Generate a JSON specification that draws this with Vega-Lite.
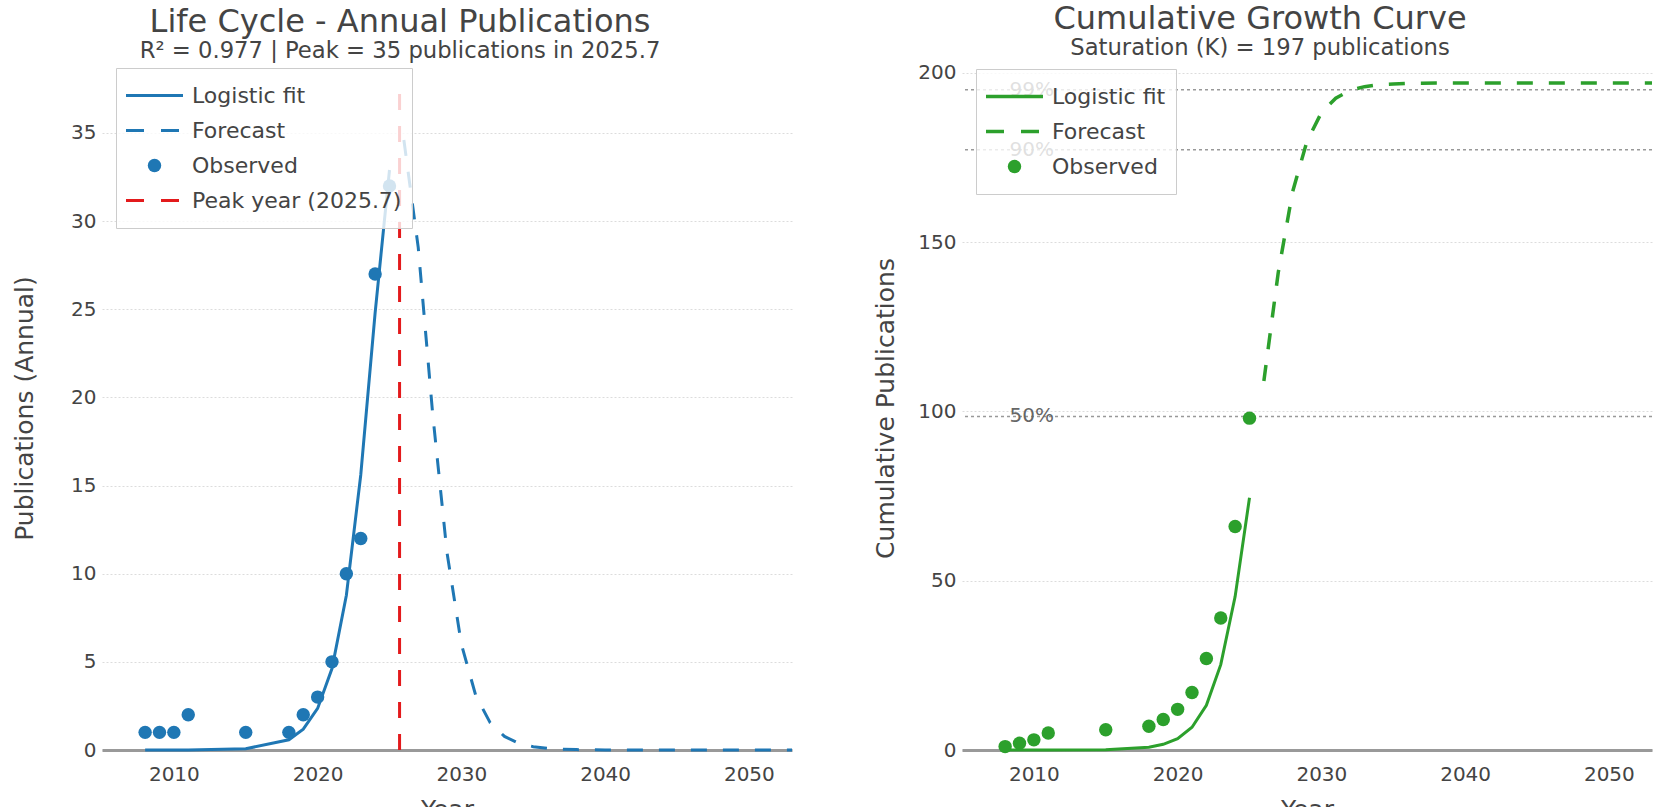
{
  "$schema": "https://vega.github.io/schema/vega-lite/v6.json",
  "background": "white",
  "padding": {"left": 12, "top": 3, "right": 0, "bottom": 0},
  "config": {
    "font": "DejaVu Sans",
    "view": {"stroke": null},
    "axis": {"labelColor": "#444", "titleColor": "#444", "titleFontWeight": "normal", "labelFontSize": 20, "titleFontSize": 25},
    "axisX": {"grid": false, "ticks": false, "domainColor": "#999", "domainWidth": 3, "labelPadding": 14, "titlePadding": 13},
    "axisY": {"grid": true, "gridColor": "#dcdcdc", "gridDash": [2, 2], "domain": false, "ticks": false, "labelPadding": 6},
    "title": {"color": "#444", "subtitleColor": "#444", "fontWeight": "normal", "fontSize": 32, "subtitleFontSize": 22.7, "anchor": "middle", "frame": "group", "dx": -47, "offset": 2, "subtitlePadding": 1},
    "legend": {"labelColor": "#444", "labelFontSize": 22, "labelLimit": 400, "title": null, "strokeColor": "#cccccc", "strokeWidth": 1, "fillColor": "rgba(255,255,255,0.8)", "padding": 10, "rowPadding": 0, "clipHeight": 35, "symbolOffset": 17.5, "labelOffset": 26.5, "symbolStrokeWidth": 3}
  },
  "datasets": {
    "annualObs": [
      {"year": 2008, "value": 1, "series": "Observed"},
      {"year": 2009, "value": 1, "series": "Observed"},
      {"year": 2010, "value": 1, "series": "Observed"},
      {"year": 2011, "value": 2, "series": "Observed"},
      {"year": 2015, "value": 1, "series": "Observed"},
      {"year": 2018, "value": 1, "series": "Observed"},
      {"year": 2019, "value": 2, "series": "Observed"},
      {"year": 2020, "value": 3, "series": "Observed"},
      {"year": 2021, "value": 5, "series": "Observed"},
      {"year": 2022, "value": 10, "series": "Observed"},
      {"year": 2023, "value": 12, "series": "Observed"},
      {"year": 2024, "value": 27, "series": "Observed"},
      {"year": 2025, "value": 32, "series": "Observed"}
    ],
    "annualFit": [
      {"year": 2008, "value": 0.0005, "series": "Logistic fit"},
      {"year": 2009, "value": 0.001, "series": "Logistic fit"},
      {"year": 2010, "value": 0.002, "series": "Logistic fit"},
      {"year": 2011, "value": 0.004, "series": "Logistic fit"},
      {"year": 2015, "value": 0.069, "series": "Logistic fit"},
      {"year": 2018, "value": 0.58, "series": "Logistic fit"},
      {"year": 2019, "value": 1.18, "series": "Logistic fit"},
      {"year": 2020, "value": 2.36, "series": "Logistic fit"},
      {"year": 2021, "value": 4.62, "series": "Logistic fit"},
      {"year": 2022, "value": 8.78, "series": "Logistic fit"},
      {"year": 2023, "value": 15.6, "series": "Logistic fit"},
      {"year": 2024, "value": 24.8, "series": "Logistic fit"},
      {"year": 2025, "value": 32.9, "series": "Logistic fit"}
    ],
    "annualForecast": [
      {"year": 2026, "value": 34.6, "series": "Forecast"},
      {"year": 2027, "value": 28.5, "series": "Forecast"},
      {"year": 2028, "value": 19.1, "series": "Forecast"},
      {"year": 2029, "value": 11.2, "series": "Forecast"},
      {"year": 2030, "value": 6.0, "series": "Forecast"},
      {"year": 2031, "value": 3.09, "series": "Forecast"},
      {"year": 2032, "value": 1.55, "series": "Forecast"},
      {"year": 2033, "value": 0.77, "series": "Forecast"},
      {"year": 2034, "value": 0.38, "series": "Forecast"},
      {"year": 2035, "value": 0.19, "series": "Forecast"},
      {"year": 2036, "value": 0.09, "series": "Forecast"},
      {"year": 2037, "value": 0.045, "series": "Forecast"},
      {"year": 2038, "value": 0.022, "series": "Forecast"},
      {"year": 2039, "value": 0.011, "series": "Forecast"},
      {"year": 2040, "value": 0.005, "series": "Forecast"},
      {"year": 2041, "value": 0.003, "series": "Forecast"},
      {"year": 2042, "value": 0.001, "series": "Forecast"},
      {"year": 2043, "value": 0.0006, "series": "Forecast"},
      {"year": 2044, "value": 0.0003, "series": "Forecast"},
      {"year": 2045, "value": 0.0001, "series": "Forecast"},
      {"year": 2046, "value": 0, "series": "Forecast"},
      {"year": 2047, "value": 0, "series": "Forecast"},
      {"year": 2048, "value": 0, "series": "Forecast"},
      {"year": 2049, "value": 0, "series": "Forecast"},
      {"year": 2050, "value": 0, "series": "Forecast"},
      {"year": 2051, "value": 0, "series": "Forecast"},
      {"year": 2052, "value": 0, "series": "Forecast"},
      {"year": 2053, "value": 0, "series": "Forecast"}
    ],
    "peak": [
      {"year": 2025.7, "bottom": 0, "top": 37.3, "series": "Peak year (2025.7)"}
    ],
    "cumObs": [
      {"year": 2008, "value": 1, "series": "Observed"},
      {"year": 2009, "value": 2, "series": "Observed"},
      {"year": 2010, "value": 3, "series": "Observed"},
      {"year": 2011, "value": 5, "series": "Observed"},
      {"year": 2015, "value": 6, "series": "Observed"},
      {"year": 2018, "value": 7, "series": "Observed"},
      {"year": 2019, "value": 9, "series": "Observed"},
      {"year": 2020, "value": 12, "series": "Observed"},
      {"year": 2021, "value": 17, "series": "Observed"},
      {"year": 2022, "value": 27, "series": "Observed"},
      {"year": 2023, "value": 39, "series": "Observed"},
      {"year": 2024, "value": 66, "series": "Observed"},
      {"year": 2025, "value": 98, "series": "Observed"}
    ],
    "cumFit": [
      {"year": 2008, "value": 0.0007, "series": "Logistic fit"},
      {"year": 2009, "value": 0.0014, "series": "Logistic fit"},
      {"year": 2010, "value": 0.003, "series": "Logistic fit"},
      {"year": 2011, "value": 0.006, "series": "Logistic fit"},
      {"year": 2015, "value": 0.098, "series": "Logistic fit"},
      {"year": 2018, "value": 0.82, "series": "Logistic fit"},
      {"year": 2019, "value": 1.67, "series": "Logistic fit"},
      {"year": 2020, "value": 3.37, "series": "Logistic fit"},
      {"year": 2021, "value": 6.72, "series": "Logistic fit"},
      {"year": 2022, "value": 13.2, "series": "Logistic fit"},
      {"year": 2023, "value": 25.2, "series": "Logistic fit"},
      {"year": 2024, "value": 45.3, "series": "Logistic fit"},
      {"year": 2025, "value": 74.5, "series": "Logistic fit"}
    ],
    "cumForecast": [
      {"year": 2026, "value": 109.0, "series": "Forecast"},
      {"year": 2027, "value": 141.0, "series": "Forecast"},
      {"year": 2028, "value": 164.9, "series": "Forecast"},
      {"year": 2029, "value": 179.8, "series": "Forecast"},
      {"year": 2030, "value": 188.2, "series": "Forecast"},
      {"year": 2031, "value": 192.5, "series": "Forecast"},
      {"year": 2032, "value": 194.8, "series": "Forecast"},
      {"year": 2033, "value": 195.9, "series": "Forecast"},
      {"year": 2034, "value": 196.5, "series": "Forecast"},
      {"year": 2035, "value": 196.7, "series": "Forecast"},
      {"year": 2036, "value": 196.9, "series": "Forecast"},
      {"year": 2037, "value": 196.9, "series": "Forecast"},
      {"year": 2038, "value": 197.0, "series": "Forecast"},
      {"year": 2040, "value": 197.0, "series": "Forecast"},
      {"year": 2045, "value": 197.0, "series": "Forecast"},
      {"year": 2050, "value": 197.0, "series": "Forecast"},
      {"year": 2053, "value": 197.0, "series": "Forecast"}
    ],
    "levels": [
      {"label": "99%", "value": 195.0},
      {"label": "90%", "value": 177.3},
      {"label": "50%", "value": 98.5}
    ]
  },
  "spacing": 170,
  "bounds": "flush",
  "resolve": {"scale": {"color": "independent", "x": "independent", "y": "independent"}, "legend": {"color": "independent"}},
  "hconcat": [
    {
      "width": 690,
      "height": 684,
      "title": {"text": "Life Cycle - Annual Publications", "subtitle": "R² = 0.977 | Peak = 35 publications in 2025.7"},
      "encoding": {
        "x": {"field": "year", "type": "quantitative", "title": "Year",
          "scale": {"domain": [2005, 2053], "nice": false, "zero": false},
          "axis": {"values": [2010, 2020, 2030, 2040, 2050], "format": "d"}},
        "color": {"field": "series", "type": "nominal",
          "scale": {"domain": ["Logistic fit", "Forecast", "Observed", "Peak year (2025.7)"], "range": ["#1f77b4", "#1f77b4", "#1f77b4", "#e31a1c"]},
          "legend": {"orient": "none", "legendX": 14, "legendY": 2,
            "encode": {"symbols": {"update": {
              "shape": {"signal": "datum.value === 'Observed' ? 'circle' : 'stroke'"},
              "size": {"signal": "datum.value === 'Observed' ? 180 : 3249"},
              "strokeDash": {"signal": "(datum.value === 'Forecast' || datum.value === 'Peak year (2025.7)') ? [18, 17] : [1, 0]"},
              "fill": {"signal": "datum.value === 'Observed' ? '#1f77b4' : 'transparent'"},
              "stroke": {"signal": "datum.value === 'Peak year (2025.7)' ? '#e31a1c' : '#1f77b4'"},
              "strokeWidth": {"signal": "datum.value === 'Observed' ? 0 : 3"},
              "opacity": {"value": 1}
            }}}}}
      },
      "layer": [
        {"data": {"name": "annualFit"}, "mark": {"type": "line", "strokeWidth": 3},
          "encoding": {"y": {"field": "value", "type": "quantitative", "title": "Publications (Annual)",
            "scale": {"domain": [0, 38.8], "nice": false},
            "axis": {"values": [0, 5, 10, 15, 20, 25, 30, 35], "titlePadding": 33}}}},
        {"data": {"name": "annualForecast"}, "mark": {"type": "line", "strokeWidth": 3, "strokeDash": [16, 16]},
          "encoding": {"y": {"field": "value", "type": "quantitative"}}},
        {"data": {"name": "annualObs"}, "mark": {"type": "point", "filled": true, "size": 180, "opacity": 1},
          "encoding": {"y": {"field": "value", "type": "quantitative"}}},
        {"data": {"name": "peak"}, "mark": {"type": "rule", "strokeWidth": 3, "strokeDash": [16, 16]},
          "encoding": {"y": {"field": "bottom", "type": "quantitative"}, "y2": {"field": "top"}}}
      ]
    },
    {
      "width": 690,
      "height": 684,
      "title": {"text": "Cumulative Growth Curve", "subtitle": "Saturation (K) = 197 publications"},
      "layer": [
        {"data": {"name": "levels"}, "mark": {"type": "rule", "color": "#999", "strokeWidth": 1.5, "strokeDash": [3, 3]},
          "encoding": {"y": {"field": "value", "type": "quantitative", "title": "Cumulative Publications",
            "scale": {"domain": [0, 202], "nice": false},
            "axis": {"values": [0, 50, 100, 150, 200], "titlePadding": 19}}}},
        {"data": {"name": "cumFit"}, "mark": {"type": "line", "strokeWidth": 3},
          "encoding": {
            "x": {"field": "year", "type": "quantitative", "title": "Year",
              "scale": {"domain": [2005, 2053], "nice": false, "zero": false},
              "axis": {"values": [2010, 2020, 2030, 2040, 2050], "format": "d"}},
            "y": {"field": "value", "type": "quantitative"},
            "color": {"field": "series", "type": "nominal",
              "scale": {"domain": ["Logistic fit", "Forecast", "Observed"], "range": ["#2ca02c", "#2ca02c", "#2ca02c"]},
              "legend": {"orient": "none", "legendX": 14, "legendY": 3,
                "encode": {"symbols": {"update": {
                  "shape": {"signal": "datum.value === 'Observed' ? 'circle' : 'stroke'"},
                  "size": {"signal": "datum.value === 'Observed' ? 180 : 3249"},
                  "strokeDash": {"signal": "datum.value === 'Forecast' ? [18, 17] : [1, 0]"},
                  "fill": {"signal": "datum.value === 'Observed' ? '#2ca02c' : 'transparent'"},
                  "stroke": {"value": "#2ca02c"},
                  "strokeWidth": {"signal": "datum.value === 'Observed' ? 0 : 3.5"},
                  "opacity": {"value": 1}
                }}}}}}},
        {"data": {"name": "cumForecast"}, "mark": {"type": "line", "strokeWidth": 3.5, "strokeDash": [16, 16]},
          "encoding": {"x": {"field": "year", "type": "quantitative"}, "y": {"field": "value", "type": "quantitative"}, "color": {"field": "series", "type": "nominal"}}},
        {"data": {"name": "cumObs"}, "mark": {"type": "point", "filled": true, "size": 180, "opacity": 1},
          "encoding": {"x": {"field": "year", "type": "quantitative"}, "y": {"field": "value", "type": "quantitative"}, "color": {"field": "series", "type": "nominal"}}},
        {"data": {"name": "levels"}, "mark": {"type": "text", "align": "left", "baseline": "middle", "fontSize": 20, "color": "#666"},
          "encoding": {"x": {"datum": 2008.3, "type": "quantitative"}, "y": {"field": "value", "type": "quantitative"}, "text": {"field": "label"}}}
      ]
    }
  ]
}
